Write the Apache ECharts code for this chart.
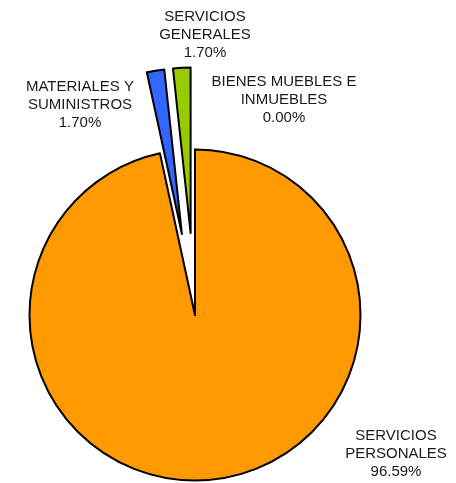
<!DOCTYPE html>
<html>
<head>
<meta charset="utf-8">
<script src="https://cdn.jsdelivr.net/npm/echarts@6/dist/echarts.min.js"></script>
<style>
  html, body { margin: 0; padding: 0; background: #fff; }
  #pie { width: 456px; height: 483px; }
</style>
</head>
<body>
<div id="pie"></div>
<script>
  // data
  var categories = ['SERVICIOS\nPERSONALES', 'MATERIALES Y\nSUMINISTROS', 'SERVICIOS\nGENERALES', 'BIENES MUEBLES E\nINMUEBLES'];
  var values = [96.59, 1.70, 1.70, 0.00];
  var exploded = [false, true, true, false];
  var colors = ['#FF9900', '#3366FF', '#99CC00', '#CC3333'];

  // label centres (px)
  var labelPos = [[396, 454], [80, 105], [205, 35], [284, 100]];

  var sliceData = [];
  var labelData = [];
  for (var i = 0; i < categories.length; i++) {
    sliceData.push({
      name: categories[i],
      value: values[i],
      selected: exploded[i],
      itemStyle: { color: colors[i] }
    });
    labelData.push({ name: categories[i], value: values[i] });
  }

  var chart = echarts.init(document.getElementById('pie'));
  chart.setOption({
    animation: false,
    series: [
      {
        // slices
        type: 'pie',
        center: [195, 315],
        radius: 165.5,
        startAngle: 90,
        clockwise: true,
        selectedMode: 'multiple',
        selectedOffset: 82,
        data: sliceData,
        itemStyle: {
          borderColor: '#000',
          borderWidth: 2
        },
        label: { show: false },
        labelLine: { show: false },
        emphasis: { disabled: true }
      },
      {
        // labels only
        type: 'pie',
        center: [195, 315],
        radius: 165.5,
        startAngle: 90,
        clockwise: true,
        silent: true,
        avoidLabelOverlap: false,
        data: labelData,
        itemStyle: { color: 'rgba(0,0,0,0)', borderWidth: 0 },
        label: {
          show: true,
          position: 'outside',
          fontFamily: 'Liberation Sans, Arial, sans-serif',
          fontSize: 15,
          lineHeight: 18,
          color: '#1a1a1a',
          align: 'center',
          formatter: function (p) {
            return p.name + '\n' + p.value.toFixed(2) + '%';
          }
        },
        labelLine: { show: false },
        labelLayout: function (params) {
          var pos = labelPos[params.dataIndex];
          return { x: pos[0], y: pos[1], align: 'center', verticalAlign: 'middle' };
        },
        emphasis: { disabled: true }
      }
    ]
  });
</script>
</body>
</html>
